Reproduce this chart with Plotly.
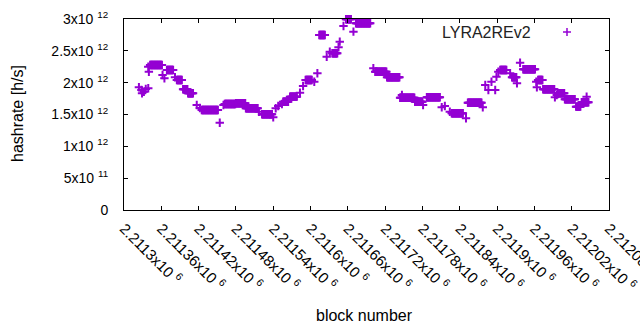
import plotly.graph_objects as go

# plateau segments: (first block, last block, hashrate in 1e12 h/s)
seg_start = [2211342, 2211369, 2211385, 2211395, 2211403, 2211425, 2211462, 2211480, 2211496, 2211522,
             2211556, 2211567, 2211592, 2211614, 2211635, 2211657, 2211673, 2211704, 2211723, 2211744,
             2211768, 2211787, 2211827, 2211853, 2211905, 2211924, 2211942, 2211966, 2211974, 2211998,
             2212009, 2212028, 2212036]
seg_end = [2211361, 2211379, 2211393, 2211402, 2211411, 2211451, 2211479, 2211495, 2211515, 2211538,
           2211564, 2211578, 2211602, 2211623, 2211643, 2211665, 2211696, 2211722, 2211743, 2211767,
           2211780, 2211808, 2211845, 2211875, 2211915, 2211931, 2211961, 2211973, 2211992, 2212008,
           2212025, 2212034, 2212047]
seg_val = [2.278, 2.199, 2.042, 1.896, 1.833, 1.571, 1.665, 1.676, 1.597, 1.503,
           1.701, 1.780, 2.042, 2.749, 2.461, 2.995, 2.933, 2.172, 2.084, 1.764,
           1.701, 1.770, 1.519, 1.685, 2.199, 2.084, 2.210, 2.042, 1.896, 1.833,
           1.739, 1.623, 1.692]

# isolated points
single_block = [2211324, 2211328, 2211332, 2211329, 2211339, 2211335, 2211340, 2211339, 2211362, 2211365,
                2211382, 2211417, 2211422, 2211454, 2211460, 2211517, 2211540, 2211544, 2211548, 2211554,
                2211583, 2211588, 2211606, 2211611, 2211626, 2211631, 2211645, 2211647, 2211653, 2211669,
                2211701, 2211747, 2211781, 2211811, 2211816, 2211824, 2211850, 2211877, 2211881, 2211886,
                2211891, 2211897, 2211899, 2211902, 2211921, 2211932, 2211937, 2211963, 2211964, 2211993,
                2211996, 2212027, 2212044]
single_val = [1.927, 1.885, 1.858, 1.833, 1.912, 1.900, 2.172, 2.251, 2.120, 2.069,
              2.084, 1.649, 1.602, 1.371, 1.649, 1.544, 1.456, 1.597, 1.634, 1.665,
              1.842, 1.948, 2.015, 2.147, 2.408, 2.486, 2.556, 2.644, 2.890, 2.801,
              2.226, 1.806, 1.649, 1.613, 1.634, 1.544, 1.440, 1.613, 1.963, 1.885,
              2.015, 1.885, 2.094, 2.172, 2.147, 1.990, 2.314, 2.015, 1.927, 1.770,
              1.806, 1.623, 1.780]

x_tickvals = [2211300, 2211360, 2211420, 2211480, 2211540, 2211600, 2211660,
              2211720, 2211780, 2211840, 2211900, 2211960, 2212020, 2212080]
x_ticktext = ["2.2113", "2.21136", "2.21142", "2.21148", "2.21154", "2.2116", "2.21166",
              "2.21172", "2.21178", "2.21184", "2.2119", "2.21196", "2.21202", "2.21208"]
y_tickvals = [0, 5e11, 1e12, 1.5e12, 2e12, 2.5e12, 3e12]
y_mant = ["0", "5", "1", "1.5", "2", "2.5", "3"]
y_exp = ["", "11", "12", "12", "12", "12", "12"]

xs, ys = [], []
for s, e, v in zip(seg_start, seg_end, seg_val):
    for b in range(s, e + 1):
        xs.append(b)
        ys.append(v * 1e12)
for b, v in zip(single_block, single_val):
    xs.append(b)
    ys.append(v * 1e12)

PURPLE = "#9400D3"
FONT = "Liberation Sans"
L, R, T, B = 124, 31, 19, 120
PW, PH = 640 - L - R, 330 - T - B

fig = go.Figure()
fig.add_trace(go.Scatter(
    x=xs, y=ys, mode="markers", name="LYRA2REv2", showlegend=False, cliponaxis=False,
    marker=dict(symbol="cross-thin", size=6, color=PURPLE, line=dict(color=PURPLE, width=2)),
))

ytext = [m if not e else f"{m}x10 <sup>{e}</sup>" for m, e in zip(y_mant, y_exp)]
xtext = [f"{t}x10 <sup>6</sup>" for t in x_ticktext]

fig.update_layout(
    width=640, height=330,
    margin=dict(l=L, r=R, t=T, b=B, autoexpand=False),
    paper_bgcolor="white", plot_bgcolor="white",
    font=dict(family=FONT, size=14, color="black"),
    xaxis=dict(range=[2211300, 2212080], tickvals=x_tickvals, ticktext=xtext, tickangle=45,
               ticks="inside", ticklen=4, tickcolor="black", showline=True, linecolor="black",
               linewidth=1, mirror="ticks", showgrid=False, zeroline=False, automargin=False,
               ticklabelstandoff=3, tickfont=dict(size=15), ticklabeloverflow="allow"),
    yaxis=dict(range=[0, 3e12], tickvals=y_tickvals, ticktext=ytext,
               ticks="inside", ticklen=4, tickcolor="black", showline=True, linecolor="black",
               linewidth=1, mirror="ticks", showgrid=False, zeroline=False, automargin=False,
               ticklabelstandoff=12, ticklabeloverflow="allow"),
)

# axis titles
fig.add_annotation(text="block number", xref="paper", yref="paper", x=(364 - L) / PW, y=-(315 - T - PH) / PH,
                   xanchor="center", yanchor="middle", showarrow=False, font=dict(size=16))
fig.add_annotation(text="hashrate [h/s]", xref="paper", yref="paper", x=-(L - 17) / PW, y=(T + PH - 114) / PH,
                   xanchor="center", yanchor="middle", textangle=-90, showarrow=False, font=dict(size=16))

# legend (gnuplot style: text then sample on the right)
fig.add_annotation(text="LYRA2REv2", xref="paper", yref="paper", x=(533 - L) / PW, y=(T + PH - 32) / PH,
                   xanchor="right", yanchor="middle", showarrow=False, font=dict(size=16, color="#222"))
lx, ly = (567 - L) / PW, (T + PH - 32) / PH
dx, dy = 4 / PW, 4 / PH
fig.add_shape(type="line", xref="paper", yref="paper", x0=lx - dx, x1=lx + dx, y0=ly, y1=ly,
              line=dict(color=PURPLE, width=1.5))
fig.add_shape(type="line", xref="paper", yref="paper", x0=lx, x1=lx, y0=ly - dy, y1=ly + dy,
              line=dict(color=PURPLE, width=1.5))

fig.write_html("out.html", config={"displayModeBar": False},
               post_script="document.body.style.margin='0';document.body.style.overflow='hidden';")
